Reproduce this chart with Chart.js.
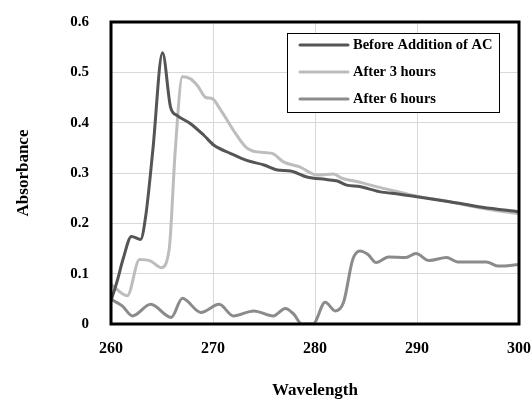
<!DOCTYPE html>
<html>
<head>
<meta charset="utf-8">
<script src="https://cdn.jsdelivr.net/npm/chart.js@4.4.1/dist/chart.umd.min.js"></script>
<style>
  html, body { margin: 0; padding: 0; background: #ffffff; }
  #wrap { width: 532px; height: 401px; }
</style>
</head>
<body>
<div id="wrap"><canvas id="spectra" width="532" height="401"></canvas></div>
<script>
// Absorbance spectra
const beforeX = [260, 260.6, 261.2, 262, 262.9, 263.4, 264.1, 265.05, 265.85, 266.5, 267.8, 269.1, 270.1, 271.7, 273.3, 275, 276.3, 277.6, 279.2, 281.1, 282.2, 283.1, 284.4, 286.3, 288.3, 290, 293.2, 296.4, 300];
const beforeY = [0.046, 0.085, 0.13, 0.174, 0.168, 0.214, 0.345, 0.539, 0.43, 0.414, 0.398, 0.375, 0.355, 0.339, 0.325, 0.316, 0.306, 0.304, 0.292, 0.287, 0.284, 0.276, 0.273, 0.263, 0.258, 0.253, 0.243, 0.232, 0.223];

const after3X = [260, 261.6, 262.8, 263.9, 264.9, 265.7, 266.3, 267.0, 267.8, 268.5, 269.3, 269.9, 270.7, 272, 273.2, 274.3, 275.8, 276.9, 278.5, 280.2, 281.8, 282.7, 284.1, 286, 288.3, 290, 293.2, 296.4, 300];
const after3Y = [0.079, 0.056, 0.128, 0.125, 0.112, 0.148, 0.345, 0.491, 0.487, 0.473, 0.45, 0.448, 0.427, 0.385, 0.352, 0.342, 0.339, 0.322, 0.312, 0.296, 0.298, 0.289, 0.283, 0.273, 0.262, 0.254, 0.243, 0.23, 0.219];

const after6X = [260, 261.1, 262.1, 263.9, 265.9, 267.0, 268.8, 270.6, 272.0, 274.0, 275.9, 277.1, 277.9, 278.7, 279.8, 281.0, 282.0, 282.8, 283.7, 284.4, 285.2, 286.0, 287.2, 288.9, 289.9, 291.2, 292.9, 294.0, 296.8, 298.0, 300];
const after6Y = [0.049, 0.036, 0.016, 0.039, 0.013, 0.051, 0.023, 0.039, 0.016, 0.026, 0.016, 0.031, 0.02, 0, 0, 0.043, 0.026, 0.043, 0.128, 0.145, 0.138, 0.122, 0.133, 0.132, 0.14, 0.126, 0.132, 0.123, 0.123, 0.115, 0.118];

const seriesNames = ['Before Addition of AC', 'After 3 hours', 'After 6 hours'];
const seriesColors = ['#555555', '#bdbdbd', '#8b8b8b'];

const xTicks = [260, 270, 280, 290, 300];
const yTicks = [0, 0.1, 0.2, 0.3, 0.4, 0.5, 0.6];

function toPoints(xs, ys) {
    return xs.map((x, i) => ({ x: x, y: ys[i] }));
}

const serif = "'Liberation Serif', 'Times New Roman', serif";

// box round the plot area
const frame = {
    id: 'frame',
    afterDatasetsDraw(chart) {
        const a = chart.chartArea;
        const ctx = chart.ctx;
        ctx.save();
        ctx.strokeStyle = '#000000';
        ctx.lineWidth = 3;
        ctx.strokeRect(a.left, a.top, a.right - a.left, a.bottom - a.top);
        ctx.restore();
    }
};

// legend sitting inside the plot, top right
const insideLegend = {
    id: 'insideLegend',
    afterDraw(chart) {
        const a = chart.chartArea;
        const ctx = chart.ctx;
        const boxL = a.left + 176, boxT = a.top + 11, boxW = 212, boxH = 79;
        ctx.save();
        ctx.fillStyle = '#ffffff';
        ctx.fillRect(boxL, boxT, boxW, boxH);
        ctx.strokeStyle = '#000000';
        ctx.lineWidth = 1;
        ctx.strokeRect(boxL + 0.5, boxT + 0.5, boxW, boxH);
        ctx.font = 'bold 14.5px ' + serif;
        ctx.textBaseline = 'middle';
        chart.data.datasets.forEach((ds, i) => {
            const y = boxT + 12 + i * 27;
            ctx.strokeStyle = ds.borderColor;
            ctx.lineWidth = 3;
            ctx.lineCap = 'round';
            ctx.beginPath();
            ctx.moveTo(boxL + 13, y);
            ctx.lineTo(boxL + 61, y);
            ctx.stroke();
            ctx.fillStyle = '#000000';
            ctx.fillText(ds.label, boxL + 66, y);
        });
        ctx.restore();
    }
};

const datasets = [
    toPoints(beforeX, beforeY),
    toPoints(after3X, after3Y),
    toPoints(after6X, after6Y)
].map((pts, i) => ({
    label: seriesNames[i],
    data: pts,
    borderColor: seriesColors[i],
    backgroundColor: seriesColors[i],
    borderWidth: 3,
    pointRadius: 0,
    fill: false,
    tension: 0.35,
    cubicInterpolationMode: 'monotone'
}));
// draw the dark line on top
datasets[0].order = 0;
datasets[1].order = 2;
datasets[2].order = 1;

new Chart(document.getElementById('spectra'), {
    type: 'line',
    data: { datasets: datasets },
    plugins: [frame, insideLegend],
    options: {
        responsive: false,
        animation: false,
        layout: { padding: { top: 22, right: 13, left: 0, bottom: 0 } },
        plugins: {
            legend: { display: false },
            tooltip: { enabled: false }
        },
        scales: {
            x: {
                type: 'linear',
                min: 260,
                max: 300,
                afterBuildTicks(scale) {
                    scale.ticks = xTicks.map(v => ({ value: v }));
                },
                afterFit(scale) {
                    scale.height = 77;
                    // let the end labels hang over, plot box is fixed by layout padding
                    scale.paddingLeft = 0;
                    scale.paddingRight = 0;
                },
                grid: { color: '#d9d9d9', lineWidth: 1, drawTicks: false },
                border: { display: false },
                ticks: {
                    color: '#000000',
                    padding: 15,
                    maxRotation: 0,
                    font: { family: serif, size: 16, weight: 'bold' }
                },
                title: {
                    display: true,
                    text: 'Wavelength',
                    color: '#000000',
                    padding: { top: 1, bottom: 0 },
                    font: { family: serif, size: 17, weight: 'bold' }
                }
            },
            y: {
                min: 0,
                max: 0.6,
                afterBuildTicks(scale) {
                    scale.ticks = yTicks.map(v => ({ value: v }));
                },
                afterFit(scale) {
                    scale.width = 111;
                    scale.paddingTop = 0;
                    scale.paddingBottom = 0;
                },
                grid: { color: '#d9d9d9', lineWidth: 1, drawTicks: false },
                border: { display: false },
                ticks: {
                    color: '#000000',
                    padding: 22,
                    callback: v => String(Math.round(v * 10) / 10),
                    font: { family: serif, size: 15, weight: 'bold' }
                },
                title: {
                    display: true,
                    text: 'Absorbance',
                    color: '#000000',
                    padding: { top: 13, bottom: 0 },
                    font: { family: serif, size: 17, weight: 'bold' }
                }
            }
        }
    }
});
</script>
</body>
</html>
